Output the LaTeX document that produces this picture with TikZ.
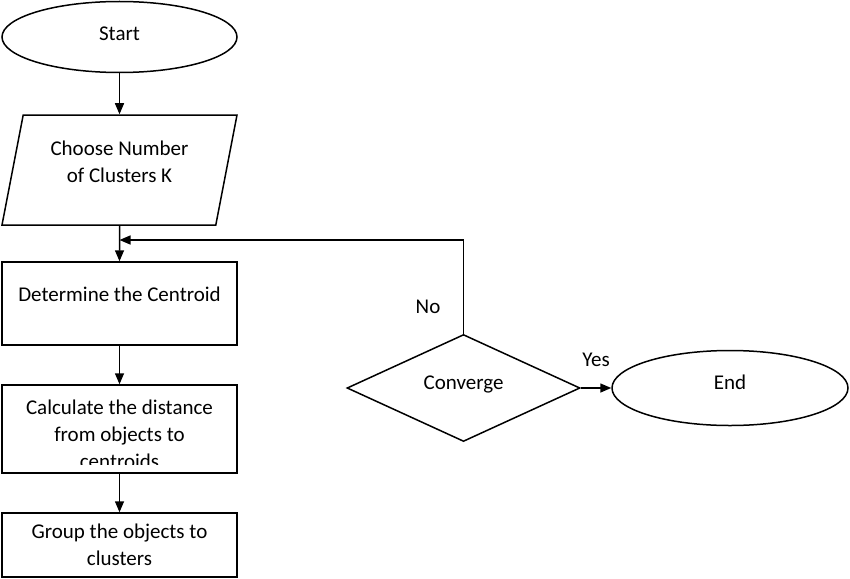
\documentclass[tikz,border=0pt]{standalone}
\usepackage{fontspec}
\setmainfont{Carlito}
\usetikzlibrary{shapes.geometric, arrows.meta, positioning}
\newcommand{\flowfont}{\fontsize{21}{27}\selectfont}

\begin{document}
\begin{tikzpicture}[x=1pt, y=-1pt,
    term/.style={ellipse, draw, line width=1.5pt, minimum width=235pt, minimum height=71pt, font=\flowfont},
    io/.style={trapezium, trapezium left angle=72, trapezium right angle=108, trapezium stretches body=true, draw, line width=1.5pt, minimum width=235pt, minimum height=110pt, align=center, font=\flowfont},
    proc/.style={rectangle, draw, line width=1.5pt, minimum width=235pt, align=center, font=\flowfont},
    decide/.style={diamond, aspect=2.2, draw, line width=1.5pt, minimum width=233pt, minimum height=107pt, text depth=10pt, font=\flowfont},
    edge/.style={-{Triangle[length=11pt, width=9pt]}, line width=1.5pt},
]
\useasboundingbox (0,0) rectangle (850,578);

\node[term, text depth=6pt] (start) at (119.5,37) {Start};
\node[io, text depth=17pt] (choose) at (119.5,170) {Choose Number\\of Clusters K};
\node[proc, minimum height=83pt, text depth=19pt] (centroid) at (119.5,303.5) {Determine the Centroid};
\node[proc, minimum height=88pt] (dist) at (119.5,429) {};
\begin{scope}
  \clip (dist.north west) rectangle ([yshift=9pt]dist.south east);
  \node[align=center, font=\flowfont] (distText) at (119.5,434) {Calculate the distance\\from objects to\\centroids};
\end{scope}
\node[proc, minimum height=64pt] (group) at (119.5,545) {Group the objects to\\clusters};
\node[decide] (conv) at (463.5,388) {Converge};
\node[term, minimum width=236pt, minimum height=75pt, text depth=11pt] (finish) at (730,388) {End};
\node[font=\flowfont] (no) at (428,307) {No};
\coordinate (merge) at (119.5,240);

\draw[edge] (start) -- (choose);
\draw[edge] (choose) -- (centroid);
\draw[edge] (conv.north) |- (merge);
\draw[edge] (centroid) -- (dist);
\draw[edge] (dist) -- (group);
\draw[edge] (conv) -- node[above=17pt, font=\flowfont] {Yes} (finish);

\end{tikzpicture}
\end{document}
